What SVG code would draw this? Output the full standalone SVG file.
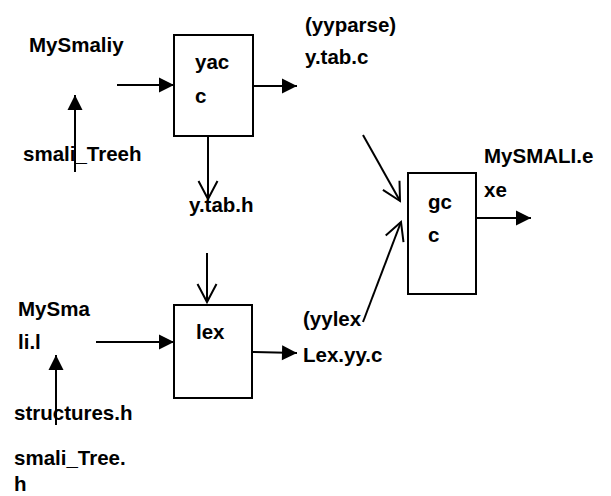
<svg xmlns="http://www.w3.org/2000/svg" width="611" height="496" viewBox="0 0 611 496">
<style>
text{font-family:"Liberation Sans",Arial,sans-serif;font-weight:bold;font-size:20.5px;fill:#000}
.box{fill:#fff;stroke:#000;stroke-width:2}
.c{fill:none;stroke:#000;stroke-width:2}
.f{marker-end:url(#fill)}
.o{marker-end:url(#open)}
</style>
<defs>
<marker id="fill" markerUnits="userSpaceOnUse" markerWidth="20" markerHeight="20" viewBox="-18 -10 20 20" refX="0" refY="0" orient="auto" overflow="visible">
<path d="M-15,-7.5 L0,0 L-15,7.5 Z" fill="#000"/>
</marker>
<marker id="open" markerUnits="userSpaceOnUse" markerWidth="24" markerHeight="24" viewBox="-22 -12 24 24" refX="0" refY="0" orient="auto" overflow="visible">
<path d="M-18,-9.5 L0,0 L-18,9.5" fill="none" stroke="#000" stroke-width="2"/>
</marker>
</defs>
<rect width="611" height="496" fill="#fff"/>
<g id="connectors">
<path class="c f" d="M117,85 L174,85"/>
<path class="c f" d="M75,172 L75,95"/>
<path class="c f" d="M253,86 L297,86"/>
<path class="c o" d="M208,136 L208,199"/>
<path class="c o" d="M207,253 L207,302"/>
<path class="c f" d="M96,342 L174,342"/>
<path class="c f" d="M56,425 L56,355"/>
<path class="c f" d="M252,352 L297,353"/>
<path class="c o" d="M363,135 L400,201"/>
<path class="c o" d="M363,322 L401,222"/>
<path class="c f" d="M476,218 L531,218"/>
</g>
<g id="yacc">
<rect class="box" x="174" y="35" width="79" height="101"/>
<text x="195" y="69">yac</text>
<text x="195" y="103">c</text>
</g>
<g id="lex">
<rect class="box" x="174" y="305" width="78" height="93"/>
<text x="196" y="339">lex</text>
</g>
<g id="gcc">
<rect class="box" x="408" y="173" width="68" height="121"/>
<text x="428" y="209">gc</text>
<text x="428" y="242">c</text>
</g>
<g id="mysmaliy"><text x="29" y="52">MySmaliy</text></g>
<g id="smali_treeh"><text x="23" y="161">smali_Treeh</text></g>
<g id="ytabh"><text x="189" y="212">y.tab.h</text></g>
<g id="ytabc">
<text x="305" y="32">(yyparse)</text>
<text x="305" y="64">y.tab.c</text>
</g>
<g id="exe">
<text x="484" y="163">MySMALI.e</text>
<text x="484" y="197">xe</text>
</g>
<g id="mysmalil">
<text x="18" y="316">MySma</text>
<text x="18" y="349">li.l</text>
</g>
<g id="structures"><text x="14" y="420">structures.h</text></g>
<g id="smali_tree">
<text x="14" y="465">smali_Tree.</text>
<text x="14" y="491">h</text>
</g>
<g id="lexyyc">
<text x="303" y="326">(yylex</text>
<text x="303" y="362">Lex.yy.c</text>
</g>
</svg>
